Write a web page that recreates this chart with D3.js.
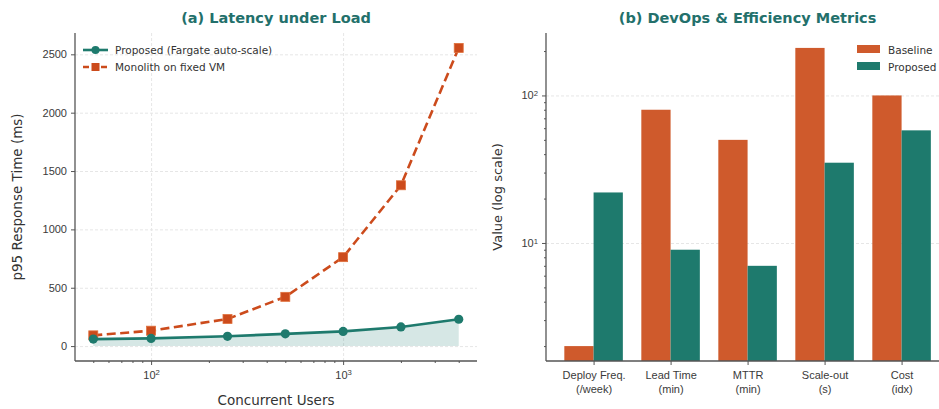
<!DOCTYPE html>
<html>
<head>
<meta charset="utf-8">
<script src="https://cdn.jsdelivr.net/npm/d3@7"></script>
<style>
  body { margin: 0; background: #fff; }
  svg { font-family: "DejaVu Sans", sans-serif; }
  .axis path, .axis line { stroke: #555; }
  .axis text { fill: #3a3a3a; font-size: 11px; }
  .grid line { stroke: #e6e6e6; stroke-dasharray: 3,2; }
  .grid path { display: none; }
</style>
</head>
<body>
<svg width="939" height="409"></svg>
<script>
// panel (a)
let users = [50, 100, 250, 500, 1000, 2000, 4000],
    proposedLatency = [60, 66, 84, 105, 126, 164, 230],
    monolithLatency = [92, 132, 232, 422, 762, 1378, 2555],
    latencyTicks = [0, 500, 1000, 1500, 2000, 2500];

// panel (b)
let metrics = [["Deploy Freq.", "(/week)"], ["Lead Time", "(min)"], ["MTTR", "(min)"], ["Scale-out", "(s)"], ["Cost", "(idx)"]],
    baseline = [2, 80, 50, 210, 100],
    proposed = [22, 9, 7, 35, 58],
    seriesNames = ["Baseline", "Proposed"];

let orange = "#cf5a2c", orangeLine = "#cc4b1c", teal = "#1e7a6d", titleCol = "#23706b";

let svg = d3.select("svg");
let plotTop = 33, plotBottom = 361;

// helpers for matplotlib-like padding
let logPad = (a, b) => {
    let la = Math.log10(a), lb = Math.log10(b), m = (lb - la) * 0.05;
    return [Math.pow(10, la - m), Math.pow(10, lb + m)];
};
let linPad = (a, b) => { let m = (b - a) * 0.05; return [a - m, b + m]; };

function minorTicks(domain) {
    let out = [];
    for (let e = -1; e < 5; e++)
        for (let k = 2; k < 10; k++) {
            let v = k * Math.pow(10, e);
            if (v >= domain[0] && v <= domain[1]) out.push(v);
        }
    return out;
}
function supLabel(sel) {
    sel.each(function(d) {
        let t = d3.select(this), e = Math.round(Math.log10(d));
        t.text("");
        t.append("tspan").text("10");
        t.append("tspan").attr("dy", "-0.45em").attr("font-size", "0.7em").text(e);
    });
}

// ---------- (a) Latency under Load ----------
let ax = { left: 75, right: 477 };
let x1 = d3.scaleLog().domain(logPad(d3.min(users), d3.max(users))).range([ax.left, ax.right]);
let y1 = d3.scaleLinear().domain(linPad(0, d3.max(monolithLatency))).range([plotBottom, plotTop]);

let g1 = svg.append("g");

g1.append("g").attr("class", "grid")
    .attr("transform", `translate(${ax.left},0)`)
    .call(d3.axisLeft(y1).tickValues(latencyTicks).tickSize(-(ax.right - ax.left)).tickFormat(""));
g1.append("g").attr("class", "grid")
    .attr("transform", `translate(0,${plotBottom})`)
    .call(d3.axisBottom(x1).tickValues([100, 1000]).tickSize(-(plotBottom - plotTop)).tickFormat(""));

let area = d3.area()
    .x((d, i) => x1(users[i]))
    .y0(y1(0))
    .y1(d => y1(d));
g1.append("path").datum(proposedLatency)
    .attr("d", area).attr("fill", teal).attr("opacity", 0.18);

let line1 = d3.line().x((d, i) => x1(users[i])).y(d => y1(d));

g1.append("path").datum(monolithLatency)
    .attr("d", line1).attr("fill", "none")
    .attr("stroke", orangeLine).attr("stroke-width", 2.6)
    .attr("stroke-dasharray", "9,4.5");
g1.selectAll(".sq").data(monolithLatency).enter().append("rect")
    .attr("x", (d, i) => x1(users[i]) - 4.5).attr("y", d => y1(d) - 4.5)
    .attr("width", 9).attr("height", 9)
    .attr("fill", orangeLine).attr("stroke", "#e0703c").attr("stroke-width", 0.8);

g1.append("path").datum(proposedLatency)
    .attr("d", line1).attr("fill", "none")
    .attr("stroke", teal).attr("stroke-width", 2.6);
g1.selectAll(".dot").data(proposedLatency).enter().append("circle")
    .attr("cx", (d, i) => x1(users[i])).attr("cy", d => y1(d))
    .attr("r", 4.6).attr("fill", teal);

let yAx1 = g1.append("g").attr("class", "axis")
    .attr("transform", `translate(${ax.left},0)`)
    .call(d3.axisLeft(y1).tickValues(latencyTicks).tickFormat(d3.format("d"))
        .tickSize(4).tickPadding(4).tickSizeOuter(0));
yAx1.select(".domain").attr("d", `M0,${plotBottom}V${plotTop}`).attr("stroke-width", 1.3);

let xAx1 = g1.append("g").attr("class", "axis")
    .attr("transform", `translate(0,${plotBottom})`)
    .call(d3.axisBottom(x1).tickValues([100, 1000]).tickSize(4).tickPadding(6).tickSizeOuter(0));
xAx1.selectAll(".tick text").call(supLabel);
xAx1.select(".domain").attr("d", `M${ax.left},0H${ax.right}`).attr("stroke-width", 1.3);
g1.append("g").attr("class", "axis")
    .attr("transform", `translate(0,${plotBottom})`)
    .call(d3.axisBottom(x1).tickValues(minorTicks(x1.domain())).tickSize(2).tickFormat(""))
    .select(".domain").remove();

g1.append("text").attr("x", (ax.left + ax.right) / 2).attr("y", 23)
    .attr("text-anchor", "middle").attr("font-weight", "bold").attr("font-size", 14.5)
    .attr("fill", titleCol).text("(a) Latency under Load");
g1.append("text").attr("x", (ax.left + ax.right) / 2).attr("y", 405)
    .attr("text-anchor", "middle").attr("font-size", 13.5).attr("fill", "#333")
    .text("Concurrent Users");
g1.append("text").attr("transform", `translate(22,${(plotTop + plotBottom) / 2}) rotate(-90)`)
    .attr("text-anchor", "middle").attr("font-size", 13.5).attr("fill", "#333")
    .text("p95 Response Time (ms)");

// legend (a)
let leg1 = g1.append("g").attr("transform", "translate(83,50)");
leg1.append("line").attr("x1", 0).attr("x2", 25).attr("stroke", teal).attr("stroke-width", 2.6);
leg1.append("circle").attr("cx", 12.5).attr("r", 4).attr("fill", teal);
leg1.append("text").attr("x", 32).attr("y", 4).attr("font-size", 10.5).attr("fill", "#333")
    .text("Proposed (Fargate auto-scale)");
leg1.append("line").attr("x1", 0).attr("x2", 25).attr("y1", 17).attr("y2", 17)
    .attr("stroke", orangeLine).attr("stroke-width", 2.6).attr("stroke-dasharray", "6,3");
leg1.append("rect").attr("x", 8.5).attr("y", 13).attr("width", 8).attr("height", 8).attr("fill", orangeLine);
leg1.append("text").attr("x", 32).attr("y", 21).attr("font-size", 10.5).attr("fill", "#333")
    .text("Monolith on fixed VM");

// ---------- (b) DevOps & Efficiency Metrics ----------
let bx = { left: 546 };
let bw = 0.38, n = metrics.length;
let xDom = linPad(-bw, n - 1 + bw);
let unit = 77;
bx.right = bx.left + (xDom[1] - xDom[0]) * unit;
let x2 = d3.scaleLinear().domain(xDom).range([bx.left, bx.right]);
let y2 = d3.scaleLog().domain(logPad(d3.min(baseline.concat(proposed)), d3.max(baseline.concat(proposed))))
    .range([plotBottom, plotTop]);

let g2 = svg.append("g");

g2.append("g").attr("class", "grid")
    .attr("transform", `translate(${bx.left},0)`)
    .call(d3.axisLeft(y2).tickValues([10, 100]).tickSize(-(bx.right - bx.left)).tickFormat(""));

let groups = [baseline, proposed];
let colors = [orange, teal];
groups.forEach((vals, s) => {
    g2.selectAll(".bar" + s).data(vals).enter().append("rect")
        .attr("x", (d, i) => x2(i + (s === 0 ? -bw : 0)))
        .attr("width", x2(bw) - x2(0))
        .attr("y", d => y2(d))
        .attr("height", d => plotBottom - y2(d))
        .attr("fill", colors[s]);
});

let yAx2 = g2.append("g").attr("class", "axis")
    .attr("transform", `translate(${bx.left},0)`)
    .call(d3.axisLeft(y2).tickValues([10, 100]).tickSize(4).tickPadding(4).tickSizeOuter(0));
yAx2.selectAll(".tick text").call(supLabel);
yAx2.select(".domain").attr("d", `M0,${plotBottom}V${plotTop}`).attr("stroke-width", 1.3);
g2.append("g").attr("class", "axis")
    .attr("transform", `translate(${bx.left},0)`)
    .call(d3.axisLeft(y2).tickValues(minorTicks(y2.domain())).tickSize(2).tickFormat(""))
    .select(".domain").remove();

let xAx2 = g2.append("g").attr("class", "axis")
    .attr("transform", `translate(0,${plotBottom})`)
    .call(d3.axisBottom(x2).tickValues(d3.range(n)).tickSize(4).tickPadding(6).tickSizeOuter(0)
        .tickFormat(i => metrics[i][0]));
xAx2.select(".domain").attr("d", `M${bx.left},0H${bx.right}`).attr("stroke-width", 1.3);
xAx2.selectAll(".tick text").each(function(i) {
    let t = d3.select(this);
    t.text("");
    t.append("tspan").attr("x", 0).text(metrics[i][0]);
    t.append("tspan").attr("x", 0).attr("dy", "1.3em").text(metrics[i][1]);
});

g2.append("text").attr("x", (bx.left + bx.right) / 2).attr("y", 23)
    .attr("text-anchor", "middle").attr("font-weight", "bold").attr("font-size", 14.5)
    .attr("fill", titleCol).text("(b) DevOps & Efficiency Metrics");
g2.append("text").attr("transform", `translate(502,${(plotTop + plotBottom) / 2}) rotate(-90)`)
    .attr("text-anchor", "middle").attr("font-size", 13).attr("fill", "#333")
    .text("Value (log scale)");

// legend (b)
let leg2 = g2.append("g").attr("transform", "translate(857,45)");
seriesNames.forEach((name, i) => {
    leg2.append("rect").attr("x", 0).attr("y", i * 17).attr("width", 23).attr("height", 8)
        .attr("fill", colors[i]);
    leg2.append("text").attr("x", 31).attr("y", i * 17 + 8.5).attr("font-size", 10.5)
        .attr("fill", "#333").text(name);
});
</script>
</body>
</html>
